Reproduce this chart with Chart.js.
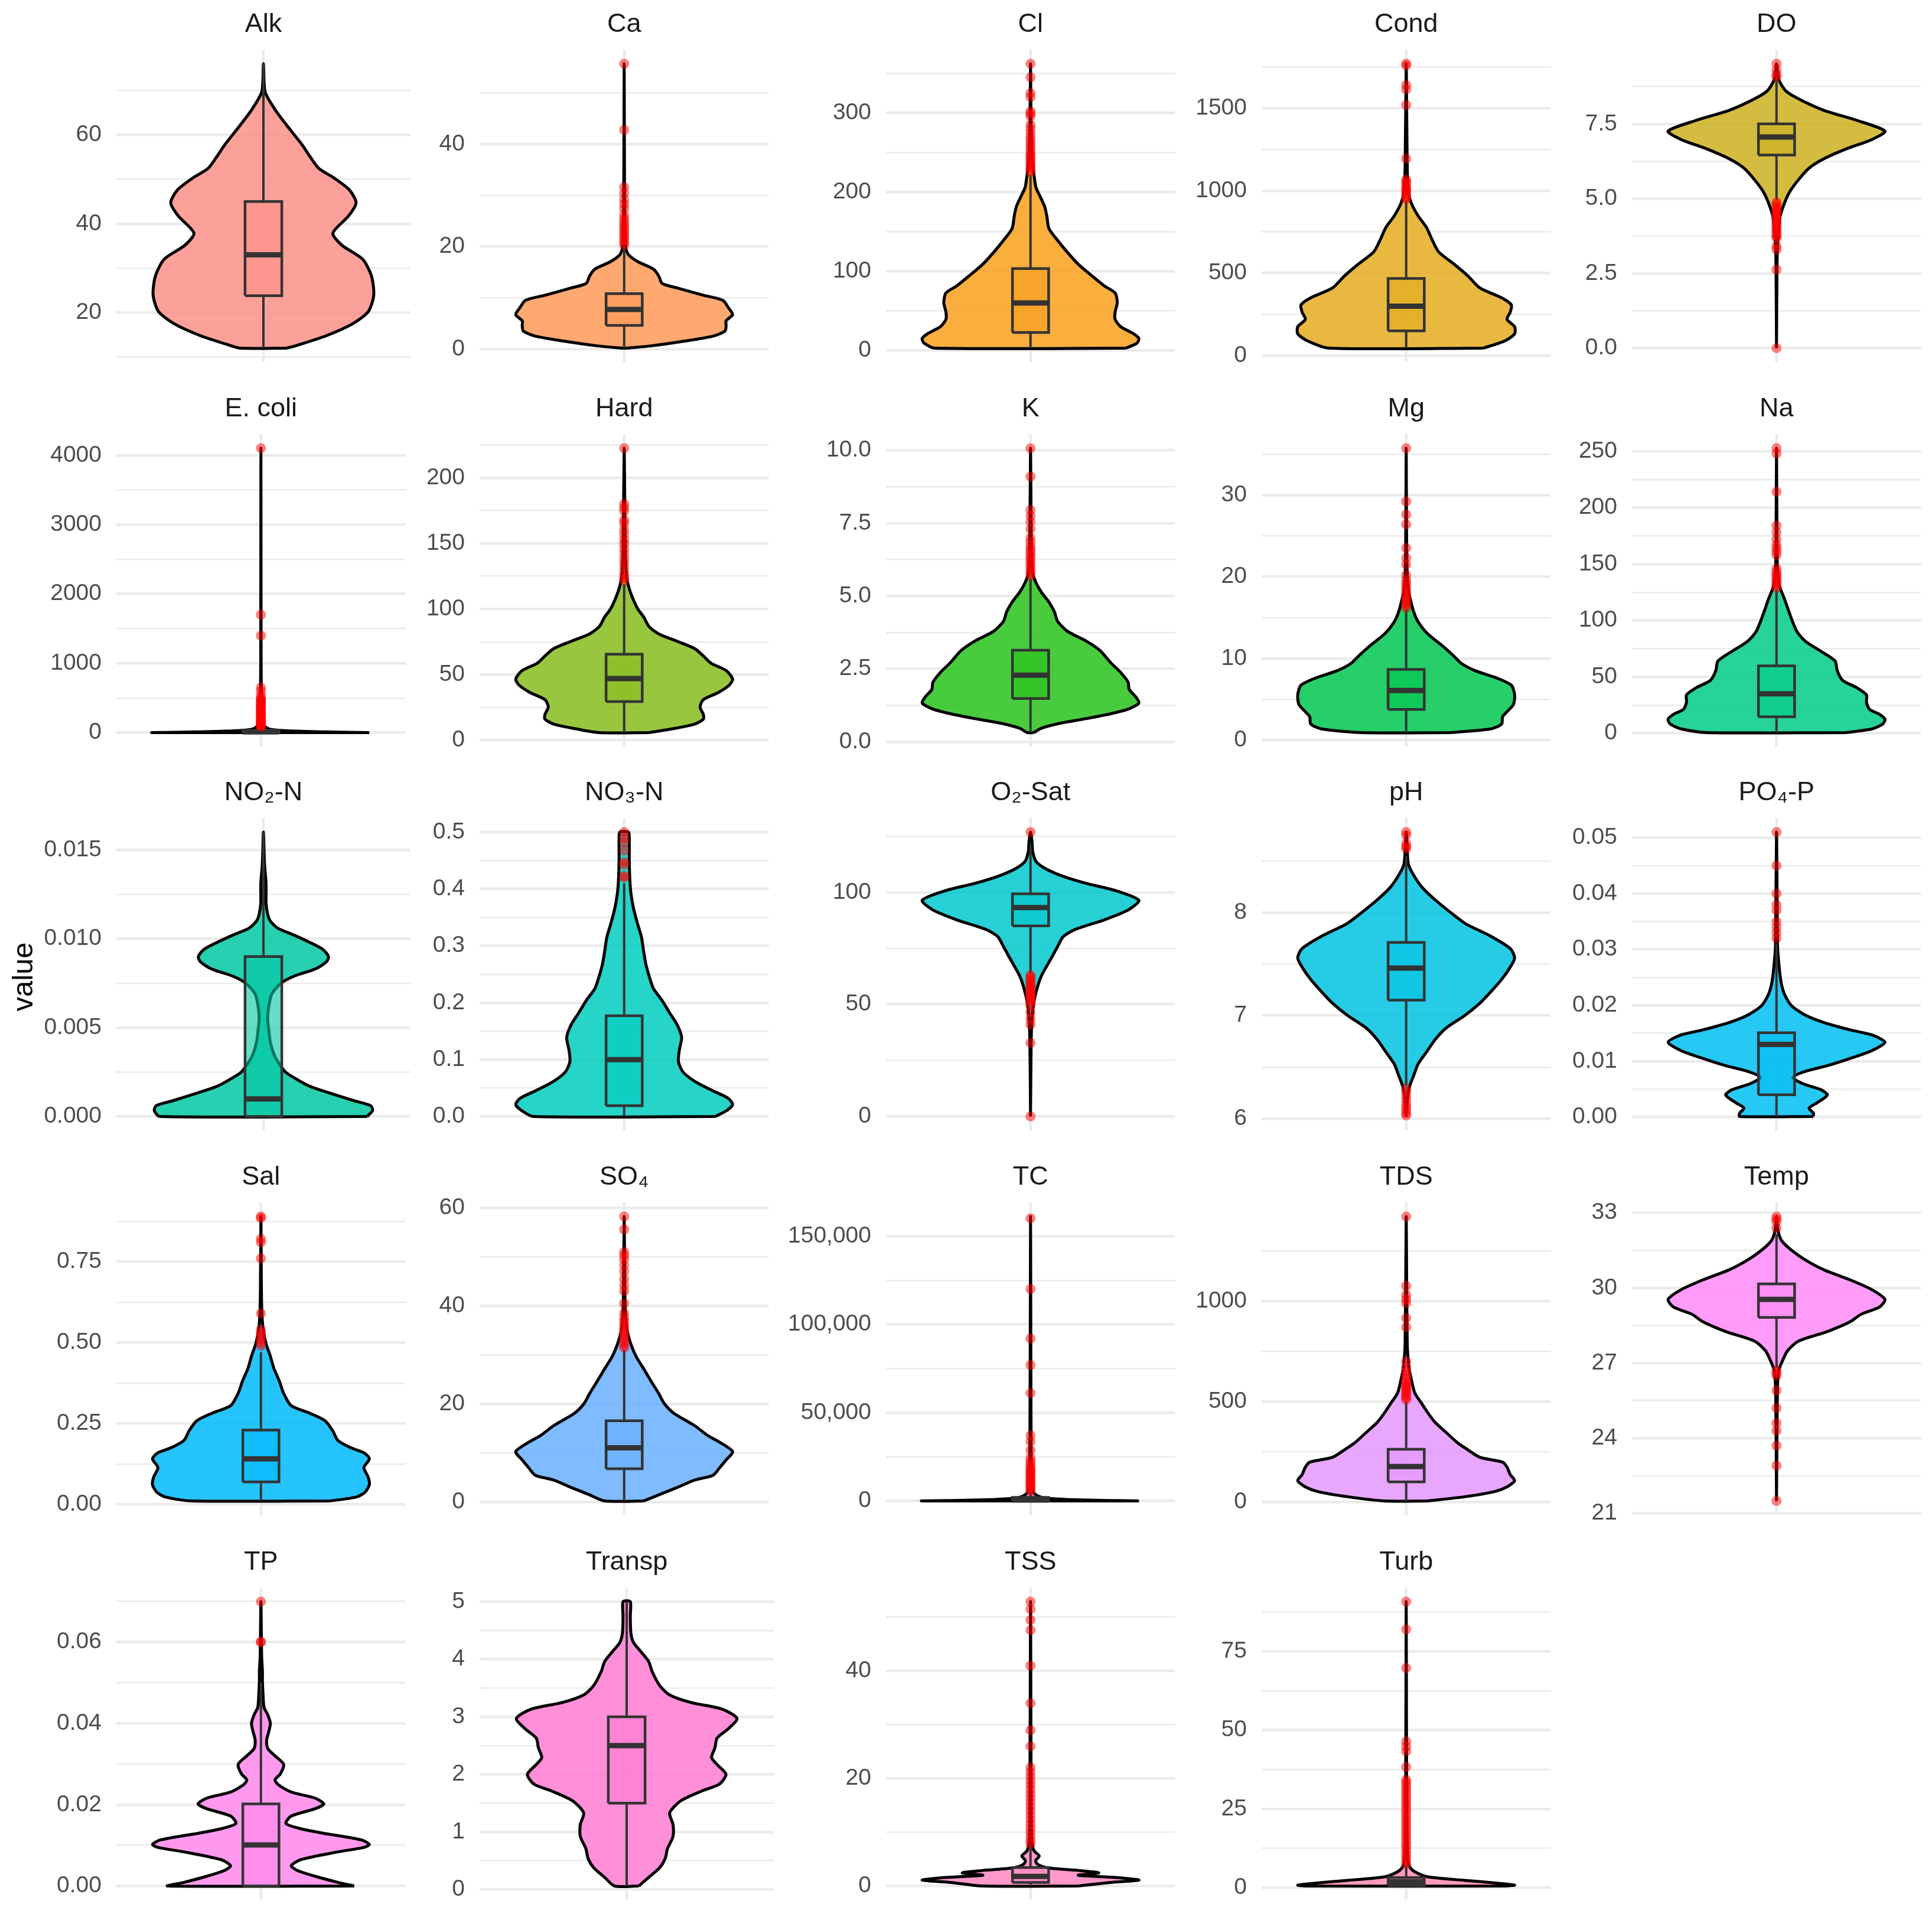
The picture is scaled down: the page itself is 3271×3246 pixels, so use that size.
<!DOCTYPE html>
<html>
<head>
<meta charset="utf-8">
<script src="https://cdn.jsdelivr.net/npm/chart.js@4.4.1/dist/chart.umd.min.js"></script>
<style>
  html, body { margin: 0; padding: 0; background: #ffffff; }
  body { width: 3271px; height: 3246px; position: relative; overflow: hidden; }
  canvas { position: absolute; }
  #ylab { position: absolute; left: 38px; top: 1654px; transform: translate(-50%, -50%) rotate(-90deg);
          font-family: 'Liberation Sans', Arial, Helvetica, sans-serif; font-size: 49px; color: #000; white-space: nowrap; }
</style>
</head>
<body>
<div id="ylab">value</div>
<script>
// ---------------- DATA ----------------
const panelTitles = ['Alk','Ca','Cl','Cond','DO','E. coli','Hard','K','Mg','Na',
  'NO₂-N','NO₃-N','O₂-Sat','pH','PO₄-P','Sal','SO₄','TC','TDS','Temp','TP','Transp','TSS','Turb'];

// violin profile: value positions and relative half-widths (1 = widest)
const alkY = [12.0, 12.6, 14.8, 17.5, 20.2, 23.9, 28.2, 32.0, 35.2, 37.9, 41.7, 44.7, 47.6, 50.3, 52.5, 55.2, 57.8, 62.2, 65.9, 69.7, 76.0];
const alkW = [0.21, 0.30, 0.57, 0.81, 0.95, 1.0, 0.98, 0.90, 0.71, 0.63, 0.77, 0.84, 0.78, 0.64, 0.50, 0.42, 0.35, 0.21, 0.10, 0.015, 0];
const alkBox = [12.0, 23.8, 33.0, 45.0, 76.0];
const alkOut = [];

const caY = [0.15, 0.6, 1.5, 2.5, 3.5, 4.5, 5.5, 6.7, 8.1, 9.5, 10.5, 11.9, 12.8, 14.2, 15.6, 17.0, 18.4, 19.8, 25.9, 55.7];
const caW = [0.02, 0.25, 0.55, 0.82, 0.93, 0.94, 0.94, 1.0, 0.96, 0.91, 0.73, 0.49, 0.35, 0.32, 0.27, 0.13, 0.04, 0.015, 0.005, 0];
const caBox = [0.15, 4.6, 7.7, 10.8, 20.0];
const caOut = [20.3, 20.8, 21.3, 21.8, 22.3, 22.8, 23.3, 23.8, 24.3, 24.9, 25.5, 26.2, 27.4, 28.3, 29.2, 30.4, 31.6, 42.8, 55.7];

const clY = [3, 9.1, 15.1, 21.2, 30.3, 39.4, 48.4, 60.6, 72.7, 81.7, 93.9, 109, 124, 139, 154, 170, 182, 194, 206, 224, 245, 290, 362];
const clW = [0.88, 0.98, 1.0, 0.95, 0.83, 0.78, 0.78, 0.80, 0.78, 0.68, 0.57, 0.44, 0.34, 0.25, 0.17, 0.15, 0.13, 0.09, 0.05, 0.03, 0.014, 0.005, 0];
const clBox = [3, 22.7, 60, 103.5, 222];
const clOut = [226, 229, 232, 235, 238, 241, 244, 247, 250, 254, 258, 262, 266, 270, 275, 280, 285, 296, 299, 302, 320, 325, 345, 362];

const condY = [44, 88, 131, 175, 219, 263, 307, 350, 409, 482, 555, 628, 701, 774, 847, 920, 993, 1139, 1770];
const condW = [0.71, 0.91, 1.0, 1.0, 0.93, 0.96, 0.97, 0.88, 0.68, 0.57, 0.44, 0.30, 0.24, 0.19, 0.11, 0.05, 0.02, 0.01, 0];
const condBox = [44, 149, 299, 467, 940];
const condOut = [948, 960, 975, 990, 1000, 1010, 1025, 1040, 1055, 1068, 1195, 1520, 1615, 1640, 1760, 1770];

const doY = [0.0, 2.8, 3.69, 4.41, 4.82, 5.22, 5.62, 6.02, 6.34, 6.66, 6.98, 7.26, 7.62, 7.95, 8.27, 8.59, 8.99, 9.51];
const doW = [0, 0.005, 0.013, 0.034, 0.07, 0.12, 0.20, 0.30, 0.44, 0.64, 0.88, 1.0, 0.74, 0.44, 0.24, 0.09, 0.02, 0];
const doBox = [4.95, 6.46, 7.06, 7.50, 9.0];
const doOut = [9.07, 9.15, 9.31, 9.51, 4.88, 4.8, 4.72, 4.65, 4.58, 4.5, 4.42, 4.35, 4.28, 4.2, 4.12, 4.05, 3.97, 3.9, 3.82, 3.75, 3.7, 3.42, 3.3, 2.63, 0.0];

const ecoliY = [0, 10, 25, 50, 100, 200, 500, 1000, 4100];
const ecoliW = [1.0, 0.6, 0.25, 0.08, 0.03, 0.012, 0.005, 0.002, 0];
const ecoliBox = [0, 2, 10, 35, 85];
const ecoliOut = [90, 100, 110, 120, 130, 140, 150, 160, 170, 180, 190, 200, 215, 230, 245, 260, 275, 290, 305, 320, 335, 350, 365, 380, 395, 410, 425, 440, 455, 470, 485, 500, 540, 600, 650, 1400, 1700, 4100];

const hardY = [5.9, 8.7, 12.4, 16.1, 19.8, 25.4, 31.0, 36.5, 42.1, 46.7, 53.2, 58.8, 64.3, 69.9, 75.4, 81.0, 86.6, 94.0, 99.5, 108.8, 118, 127, 146, 222.4];
const hardW = [0.23, 0.44, 0.65, 0.73, 0.73, 0.70, 0.73, 0.87, 0.97, 1.0, 0.94, 0.80, 0.73, 0.65, 0.49, 0.32, 0.23, 0.18, 0.13, 0.076, 0.038, 0.02, 0.01, 0];
const hardBox = [5.9, 29.5, 47.1, 65.6, 119];
const hardOut = [121.8, 124, 127, 131, 134.8, 138, 142, 145.9, 149.6, 153, 157, 160.7, 165.3, 168, 174.6, 177.4, 180, 222.4];

const kY = [0.31, 0.46, 0.63, 0.79, 0.96, 1.13, 1.33, 1.54, 1.79, 2.04, 2.38, 2.71, 3.13, 3.46, 3.79, 4.13, 4.46, 4.79, 5.13, 5.46, 5.79, 6.63, 10.07];
const kW = [0.03, 0.10, 0.27, 0.51, 0.74, 0.91, 1.0, 0.97, 0.91, 0.90, 0.83, 0.74, 0.64, 0.51, 0.34, 0.25, 0.22, 0.17, 0.10, 0.05, 0.02, 0.008, 0];
const kBox = [0.31, 1.48, 2.28, 3.14, 5.6];
const kOut = [5.7, 5.8, 5.9, 6.0, 6.1, 6.2, 6.3, 6.4, 6.5, 6.6, 6.7, 6.85, 7.0, 7.3, 7.55, 7.75, 7.95, 9.1, 10.07];

const mgY = [0.95, 1.4, 2.0, 2.9, 3.5, 4.4, 5.6, 6.75, 7.6, 8.5, 9.4, 10.3, 11.5, 13.0, 14.5, 15.7, 17.5, 18.9, 23.4, 35.7];
const mgW = [0.41, 0.78, 0.88, 0.89, 0.93, 0.99, 1.0, 0.97, 0.84, 0.64, 0.51, 0.44, 0.34, 0.20, 0.11, 0.07, 0.034, 0.015, 0.005, 0];
const mgBox = [0.95, 3.78, 6.1, 8.68, 16.0];
const mgOut = [16.2, 16.5, 16.8, 17.1, 17.4, 17.7, 18.0, 18.4, 18.8, 19.2, 19.6, 20.2, 21.5, 22.3, 23.5, 26.4, 27.6, 29.2, 35.7];

const naY = [0.6, 3.9, 8.2, 12.5, 16.8, 21.1, 27.5, 34.0, 40.4, 46.9, 55.5, 64.1, 72.7, 81.3, 89.9, 98.5, 109, 120, 128.5, 141, 163, 252.6];
const naW = [0.64, 0.88, 0.98, 1.0, 0.95, 0.86, 0.83, 0.83, 0.74, 0.61, 0.56, 0.54, 0.41, 0.27, 0.19, 0.15, 0.11, 0.07, 0.034, 0.012, 0.005, 0];
const naBox = [0.6, 14.6, 35.0, 59.8, 127];
const naOut = [129, 131, 133, 135, 137, 139, 141, 143, 146, 158, 161, 164, 167, 172, 178, 184, 214, 248, 252.6];

const no2Y = [0, 0.00034, 0.00062, 0.00089, 0.0013, 0.0017, 0.0021, 0.0025, 0.0031, 0.0035, 0.0042, 0.0049, 0.0055, 0.0062, 0.0069, 0.0075, 0.0079, 0.0083, 0.0087, 0.0090, 0.0094, 0.0098, 0.0102, 0.0106, 0.0110, 0.0114, 0.0120, 0.0131, 0.0142, 0.0160];
const no2W = [0.94, 0.99, 0.97, 0.82, 0.61, 0.42, 0.30, 0.20, 0.13, 0.095, 0.062, 0.048, 0.038, 0.048, 0.076, 0.16, 0.28, 0.47, 0.57, 0.59, 0.54, 0.42, 0.28, 0.13, 0.062, 0.038, 0.024, 0.024, 0.01, 0];
const no2Box = [0, 0, 0.00099, 0.0090, 0.0160];
const no2Out = [];

const no3Y = [0.0, 0.011, 0.021, 0.032, 0.045, 0.062, 0.079, 0.097, 0.118, 0.139, 0.161, 0.182, 0.204, 0.225, 0.247, 0.268, 0.290, 0.315, 0.341, 0.367, 0.393, 0.418, 0.453, 0.487, 0.500];
const no3W = [0.84, 0.95, 1.0, 0.96, 0.82, 0.65, 0.54, 0.50, 0.51, 0.53, 0.49, 0.42, 0.35, 0.27, 0.23, 0.20, 0.18, 0.16, 0.12, 0.085, 0.062, 0.052, 0.047, 0.047, 0.04];
const no3Box = [0.0, 0.019, 0.100, 0.177, 0.41];
const no3Out = [0.420, 0.423, 0.443, 0.447, 0.468, 0.482, 0.490, 0.500];

const o2Y = [0, 33.4, 44.2, 51.8, 58.4, 62.7, 67.1, 71.4, 75.8, 80.1, 83.4, 87.7, 92.1, 96.4, 100.8, 104.0, 107.3, 110.5, 113.8, 118.2, 122.5, 126.8];
const o2W = [0, 0.006, 0.015, 0.034, 0.068, 0.10, 0.15, 0.20, 0.25, 0.30, 0.41, 0.68, 0.90, 1.0, 0.78, 0.51, 0.29, 0.14, 0.05, 0.02, 0.014, 0];
const o2Box = [64, 85.0, 93.2, 99.3, 120];
const o2Out = [126.8, 63.0, 62.2, 61.4, 60.6, 59.8, 59.0, 58.2, 57.4, 56.6, 55.8, 55.0, 54.2, 53.4, 52.6, 51.8, 51.0, 49.5, 46.4, 43.5, 41.0, 32.8, 0];

const phY = [6.02, 6.18, 6.32, 6.42, 6.53, 6.65, 6.77, 6.88, 7.00, 7.12, 7.23, 7.35, 7.47, 7.56, 7.65, 7.77, 7.89, 8.00, 8.12, 8.24, 8.36, 8.47, 8.61, 8.78];
const phW = [0, 0.01, 0.034, 0.07, 0.11, 0.19, 0.27, 0.37, 0.54, 0.68, 0.78, 0.88, 0.96, 1.0, 0.96, 0.78, 0.55, 0.41, 0.27, 0.15, 0.07, 0.02, 0.01, 0];
const phBox = [6.32, 7.15, 7.46, 7.71, 8.55];
const phOut = [8.78, 8.75, 8.67, 8.64, 8.62, 6.29, 6.26, 6.22, 6.18, 6.14, 6.11, 6.08, 6.05, 6.03];

const po4Y = [0.0001, 0.0007, 0.0016, 0.0025, 0.0034, 0.0040, 0.0049, 0.0060, 0.0071, 0.0082, 0.0092, 0.0105, 0.0119, 0.0134, 0.0147, 0.0156, 0.0169, 0.0182, 0.0199, 0.0217, 0.0234, 0.0252, 0.0278, 0.0304, 0.0510];
const po4W = [0.34, 0.34, 0.30, 0.37, 0.44, 0.47, 0.41, 0.24, 0.15, 0.27, 0.47, 0.68, 0.88, 1.0, 0.88, 0.68, 0.44, 0.27, 0.14, 0.08, 0.05, 0.034, 0.02, 0.01, 0];
const po4Box = [0.0001, 0.0040, 0.0130, 0.0151, 0.031];
const po4Out = [0.032, 0.033, 0.034, 0.035, 0.037, 0.038, 0.040, 0.045, 0.051];

const salY = [0.011, 0.023, 0.038, 0.061, 0.084, 0.114, 0.141, 0.160, 0.175, 0.198, 0.229, 0.259, 0.282, 0.305, 0.343, 0.381, 0.420, 0.458, 0.496, 0.534, 0.572, 0.649, 0.889];
const salW = [0.64, 0.88, 0.96, 1.0, 0.99, 0.95, 1.0, 0.95, 0.83, 0.71, 0.66, 0.59, 0.45, 0.28, 0.21, 0.17, 0.12, 0.087, 0.048, 0.024, 0.012, 0.005, 0];
const salBox = [0.011, 0.070, 0.141, 0.230, 0.47];
const salOut = [0.49, 0.50, 0.51, 0.52, 0.53, 0.54, 0.59, 0.76, 0.81, 0.82, 0.885, 0.889];

const so4Y = [0.25, 1.5, 3.0, 4.5, 5.5, 7.0, 8.6, 10.3, 12.1, 13.6, 15.6, 18.1, 20.1, 22.1, 24.6, 27.2, 29.7, 32.2, 34.7, 37.2, 42.3, 58.2];
const so4W = [0.18, 0.32, 0.49, 0.65, 0.82, 0.88, 0.94, 1.0, 0.89, 0.77, 0.65, 0.46, 0.37, 0.32, 0.25, 0.18, 0.11, 0.062, 0.03, 0.015, 0.007, 0];
const so4Box = [0.25, 6.8, 11.1, 16.6, 31.0];
const so4Out = [31.5, 32, 32.6, 33.2, 33.8, 34.4, 35, 35.6, 36.2, 36.9, 37.6, 38.5, 40.5, 43, 44.2, 45.5, 47, 48.3, 49.5, 50.3, 51, 55.6, 58.2];

const tcY = [0, 300, 800, 1500, 2500, 4000, 6000, 15000, 161000];
const tcW = [1.0, 0.7, 0.35, 0.15, 0.08, 0.04, 0.02, 0.007, 0];
const tcBox = [0, 100, 500, 2000, 5000];
const tcOut = [5500, 6500, 7500, 8500, 9500, 10500, 11500, 12500, 13500, 14500, 15500, 16500, 17500, 18500, 19500, 21000, 22500, 24500, 28800, 33700, 37100, 61000, 77000, 92000, 120000, 160000];

const tdsY = [6, 27, 52, 76, 107, 137, 174, 199, 223, 260, 297, 346, 395, 444, 493, 542, 604, 665, 788, 1420];
const tdsW = [0.2, 0.54, 0.81, 0.93, 1.0, 0.96, 0.93, 0.89, 0.68, 0.57, 0.47, 0.37, 0.27, 0.20, 0.14, 0.08, 0.05, 0.027, 0.01, 0];
const tdsBox = [6, 101, 177, 263, 500];
const tdsOut = [510, 520, 530, 540, 550, 560, 570, 580, 590, 600, 615, 630, 650, 670, 700, 870, 915, 990, 1010, 1030, 1075, 1420];

const tempY = [21.49, 25.8, 26.69, 27.08, 27.48, 27.87, 28.26, 28.65, 28.95, 29.24, 29.54, 29.93, 30.32, 30.72, 31.11, 31.50, 31.89, 32.29, 32.85];
const tempW = [0, 0.008, 0.02, 0.054, 0.10, 0.20, 0.47, 0.68, 0.78, 0.95, 1.0, 0.88, 0.68, 0.44, 0.27, 0.14, 0.047, 0.014, 0];
const tempBox = [26.8, 28.82, 29.54, 30.16, 32.15];
const tempOut = [32.85, 32.75, 32.65, 32.4, 26.7, 26.6, 26.5, 25.9, 25.2, 24.6, 24.3, 23.7, 22.9, 21.49];

const tpY = [0.0000, 0.0009, 0.0024, 0.0039, 0.0050, 0.0065, 0.0083, 0.0095, 0.0102, 0.0113, 0.0130, 0.0142, 0.0154, 0.0172, 0.0190, 0.0202, 0.0216, 0.0231, 0.0249, 0.0261, 0.0276, 0.0299, 0.0320, 0.0338, 0.0359, 0.0379, 0.0400, 0.0421, 0.0439, 0.0474, 0.0504, 0.0528, 0.0563, 0.0699];
const tpW = [0.86, 0.71, 0.50, 0.33, 0.28, 0.37, 0.69, 0.95, 1.0, 0.93, 0.57, 0.35, 0.23, 0.28, 0.50, 0.58, 0.50, 0.28, 0.16, 0.13, 0.18, 0.21, 0.13, 0.063, 0.053, 0.072, 0.087, 0.063, 0.029, 0.019, 0.014, 0.014, 0.007, 0];
const tpBox = [0, 0, 0.0101, 0.0202, 0.050];
const tpOut = [0.06, 0.06, 0.0699];

const transpY = [0.06, 0.21, 0.38, 0.54, 0.71, 0.92, 1.13, 1.33, 1.54, 1.71, 1.83, 2.00, 2.17, 2.29, 2.46, 2.63, 2.79, 2.97, 3.13, 3.25, 3.38, 3.54, 3.79, 3.96, 4.13, 4.29, 4.46, 4.75, 5.00];
const transpW = [0.11, 0.20, 0.30, 0.35, 0.37, 0.42, 0.42, 0.39, 0.49, 0.68, 0.84, 0.90, 0.82, 0.77, 0.80, 0.82, 0.92, 1.0, 0.87, 0.58, 0.39, 0.30, 0.23, 0.20, 0.13, 0.062, 0.038, 0.033, 0.033];
const transpBox = [0.06, 1.5, 2.5, 3.0, 5.0];
const transpOut = [];

const tssY = [0.0, 0.67, 1.1, 1.6, 2.0, 2.45, 2.9, 3.35, 4.0, 4.7, 5.6, 6.5, 7.8, 11.4, 52.9];
const tssW = [0.44, 0.74, 1.0, 0.78, 0.44, 0.63, 0.44, 0.17, 0.068, 0.047, 0.08, 0.034, 0.015, 0.007, 0];
const tssBox = [0.0, 0.67, 1.8, 3.44, 7.5];
const tssOut = [7.8, 8.5, 9.2, 10, 10.8, 11.6, 12.4, 13.2, 14, 14.8, 15.6, 16.4, 17.2, 18, 18.8, 19.6, 20.4, 21.2, 22.1, 26, 29, 34, 41, 47.6, 49.5, 51.5, 52.9];

const turbY = [0.5, 0.77, 1.5, 2.3, 3.4, 5.0, 6.5, 8.8, 19.5, 90.8];
const turbW = [0.9, 1.0, 0.81, 0.54, 0.2, 0.08, 0.034, 0.015, 0.006, 0];
const turbBox = [0.5, 0.6, 1.8, 3.2, 7.0];
const turbOut = [7.5, 8.5, 9.5, 10.5, 11.5, 12.5, 13.5, 14.5, 15.5, 16.5, 17.5, 18.5, 19.5, 20.5, 21.5, 22.5, 23.5, 24.5, 25.5, 26.5, 27.5, 28.5, 29.5, 30.5, 31.5, 32.5, 33.5, 34.2, 38.3, 43.3, 44.8, 46.4, 69.7, 82.0, 90.8];

// y tick values and labels
const alkTicks = [20, 40, 60];                 const alkLabels = ['20', '40', '60'];
const caTicks = [0, 20, 40];                   const caLabels = ['0', '20', '40'];
const clTicks = [0, 100, 200, 300];            const clLabels = ['0', '100', '200', '300'];
const condTicks = [0, 500, 1000, 1500];        const condLabels = ['0', '500', '1000', '1500'];
const doTicks = [0, 2.5, 5, 7.5];              const doLabels = ['0.0', '2.5', '5.0', '7.5'];
const ecoliTicks = [0, 1000, 2000, 3000, 4000];const ecoliLabels = ['0', '1000', '2000', '3000', '4000'];
const hardTicks = [0, 50, 100, 150, 200];      const hardLabels = ['0', '50', '100', '150', '200'];
const kTicks = [0, 2.5, 5, 7.5, 10];           const kLabels = ['0.0', '2.5', '5.0', '7.5', '10.0'];
const mgTicks = [0, 10, 20, 30];               const mgLabels = ['0', '10', '20', '30'];
const naTicks = [0, 50, 100, 150, 200, 250];   const naLabels = ['0', '50', '100', '150', '200', '250'];
const no2Ticks = [0, 0.005, 0.010, 0.015];     const no2Labels = ['0.000', '0.005', '0.010', '0.015'];
const no3Ticks = [0, 0.1, 0.2, 0.3, 0.4, 0.5]; const no3Labels = ['0.0', '0.1', '0.2', '0.3', '0.4', '0.5'];
const o2Ticks = [0, 50, 100];                  const o2Labels = ['0', '50', '100'];
const phTicks = [6, 7, 8];                     const phLabels = ['6', '7', '8'];
const po4Ticks = [0, 0.01, 0.02, 0.03, 0.04, 0.05]; const po4Labels = ['0.00', '0.01', '0.02', '0.03', '0.04', '0.05'];
const salTicks = [0, 0.25, 0.5, 0.75];         const salLabels = ['0.00', '0.25', '0.50', '0.75'];
const so4Ticks = [0, 20, 40, 60];              const so4Labels = ['0', '20', '40', '60'];
const tcTicks = [0, 50000, 100000, 150000];    const tcLabels = ['0', '50,000', '100,000', '150,000'];
const tdsTicks = [0, 500, 1000];               const tdsLabels = ['0', '500', '1000'];
const tempTicks = [21, 24, 27, 30, 33];        const tempLabels = ['21', '24', '27', '30', '33'];
const tpTicks = [0, 0.02, 0.04, 0.06];         const tpLabels = ['0.00', '0.02', '0.04', '0.06'];
const transpTicks = [0, 1, 2, 3, 4, 5];        const transpLabels = ['0', '1', '2', '3', '4', '5'];
const tssTicks = [0, 20, 40];                  const tssLabels = ['0', '20', '40'];
const turbTicks = [0, 25, 50, 75];             const turbLabels = ['0', '25', '50', '75'];

// ---------------- styles ----------------
// fill colour for each panel (violin drawn with alpha, box on top with alpha)
const panelColors = ['#FC9088', '#FF9A57', '#F8A01C', '#E4AB1E', '#CCB01E', '#B0B81E', '#87BC1D', '#28C31C',
  '#00C74F', '#00CB88', '#00C8A2', '#00CCBE', '#00C8CD', '#00C3E2', '#00BEF2', '#00BAFF',
  '#68AFFF', '#B898FF', '#E496FD', '#FF8AF7', '#FF87EB', '#FF7BD1', '#FF87C3', '#FF8AB0'];
const VIOLIN_ALPHA = 0.85, BOX_ALPHA = 0.6;

const FONT = "'Liberation Sans', Arial, Helvetica, sans-serif";
const colLefts = [197, 812, 1500, 2136, 2763];
const rowTops = [84, 735, 1385, 2036, 2688];
const axisWidths = [185, 110, 180, 130, 120];
const PANEL_W = 498, PANEL_H = 538, TITLE_H = 84, BOTTOM_PAD = 40;
const HALF = 0.45, BOX_HALF = 0.075;

// ---------------- assembly ----------------
const panels = [
  [alkY, alkW, alkBox, alkOut, alkTicks, alkLabels],
  [caY, caW, caBox, caOut, caTicks, caLabels],
  [clY, clW, clBox, clOut, clTicks, clLabels],
  [condY, condW, condBox, condOut, condTicks, condLabels],
  [doY, doW, doBox, doOut, doTicks, doLabels],
  [ecoliY, ecoliW, ecoliBox, ecoliOut, ecoliTicks, ecoliLabels],
  [hardY, hardW, hardBox, hardOut, hardTicks, hardLabels],
  [kY, kW, kBox, kOut, kTicks, kLabels],
  [mgY, mgW, mgBox, mgOut, mgTicks, mgLabels],
  [naY, naW, naBox, naOut, naTicks, naLabels],
  [no2Y, no2W, no2Box, no2Out, no2Ticks, no2Labels],
  [no3Y, no3W, no3Box, no3Out, no3Ticks, no3Labels],
  [o2Y, o2W, o2Box, o2Out, o2Ticks, o2Labels],
  [phY, phW, phBox, phOut, phTicks, phLabels],
  [po4Y, po4W, po4Box, po4Out, po4Ticks, po4Labels],
  [salY, salW, salBox, salOut, salTicks, salLabels],
  [so4Y, so4W, so4Box, so4Out, so4Ticks, so4Labels],
  [tcY, tcW, tcBox, tcOut, tcTicks, tcLabels],
  [tdsY, tdsW, tdsBox, tdsOut, tdsTicks, tdsLabels],
  [tempY, tempW, tempBox, tempOut, tempTicks, tempLabels],
  [tpY, tpW, tpBox, tpOut, tpTicks, tpLabels],
  [transpY, transpW, transpBox, transpOut, transpTicks, transpLabels],
  [tssY, tssW, tssBox, tssOut, tssTicks, tssLabels],
  [turbY, turbW, turbBox, turbOut, turbTicks, turbLabels]
].map((a, i) => ({ title: panelTitles[i], y: a[0], w: a[1], box: a[2], out: a[3], ticks: a[4], labels: a[5], color: panelColors[i] }));

function rgba(hex, a) {
  const n = parseInt(hex.slice(1), 16);
  return `rgba(${(n >> 16) & 255},${(n >> 8) & 255},${n & 255},${a})`;
}

const vgrid = {
  id: 'vgrid',
  beforeDatasetsDraw(chart) {
    const { ctx, chartArea } = chart;
    const x = chart.scales.x.getPixelForValue(1);
    ctx.save();
    ctx.strokeStyle = '#EBEBEB';
    ctx.lineWidth = 4.5;
    ctx.beginPath();
    ctx.moveTo(x, chartArea.top);
    ctx.lineTo(x, chartArea.bottom);
    ctx.stroke();
    ctx.restore();
  }
};

panels.forEach((p, i) => {
  const col = i % 5, row = Math.floor(i / 5);
  const aw = axisWidths[col];
  const W = aw + PANEL_W, H = TITLE_H + PANEL_H + BOTTOM_PAD;
  const canvas = document.createElement('canvas');
  canvas.width = W; canvas.height = H;
  canvas.style.left = (colLefts[col] - aw) + 'px';
  canvas.style.top = (rowTops[row] - TITLE_H) + 'px';
  canvas.style.width = W + 'px'; canvas.style.height = H + 'px';
  document.body.appendChild(canvas);

  const all = p.y.concat(p.out, p.box);
  const lo = Math.min(...all), hi = Math.max(...all);
  const pad = (hi - lo) * 0.05;
  const ymin = lo - pad, ymax = hi + pad;

  const step = p.ticks[1] - p.ticks[0];
  const minors = [];
  for (let k = -1; k < p.ticks.length; k++) {
    const v = p.ticks[0] + (k + 0.5) * step;
    if (v >= ymin && v <= ymax) minors.push(v);
  }
  const majors = p.ticks.filter(v => v >= ymin - 1e-12 && v <= ymax + 1e-12);
  const tickVals = majors.concat(minors).sort((a, b) => a - b);
  const isMajor = v => majors.some(m => Math.abs(m - v) < step * 1e-6);
  const labelOf = v => {
    const k = p.ticks.findIndex(m => Math.abs(m - v) < step * 1e-6);
    return k >= 0 ? p.labels[k] : '';
  };

  // violin outline: right side upward, left side downward; zero-width tips kept single
  const n = p.y.length;
  const right = p.y.map((y, k) => ({ x: 1 + HALF * p.w[k], y }));
  let left = p.y.map((y, k) => ({ x: 1 - HALF * p.w[k], y })).reverse();
  if (p.w[n - 1] === 0) left = left.slice(1);
  if (p.w[0] === 0) left = left.slice(0, -1);
  const violin = right.concat(left, [right[0]]);
  const [wlo, q1, med, q3, whi] = p.box;

  const datasets = [
    { data: violin, showLine: true, fill: 'shape', tension: 0.25, pointRadius: 0,
      borderColor: '#000000', borderWidth: 5, borderJoinStyle: 'round',
      backgroundColor: rgba(p.color, VIOLIN_ALPHA), order: 6 },
    { data: [{ x: 1 - BOX_HALF, y: q1 }, { x: 1 + BOX_HALF, y: q1 }, { x: 1 + BOX_HALF, y: q3 }, { x: 1 - BOX_HALF, y: q3 }, { x: 1 - BOX_HALF, y: q1 }],
      showLine: true, fill: 'shape', tension: 0, pointRadius: 0,
      borderColor: '#333333', borderWidth: 4.5, backgroundColor: rgba(p.color, BOX_ALPHA), order: 5 },
    { data: [{ x: 1, y: wlo }, { x: 1, y: q1 }], showLine: true, pointRadius: 0, borderColor: '#333333', borderWidth: 4, fill: false, order: 4 },
    { data: [{ x: 1, y: q3 }, { x: 1, y: whi }], showLine: true, pointRadius: 0, borderColor: '#333333', borderWidth: 4, fill: false, order: 4 },
    { data: [{ x: 1 - BOX_HALF, y: med }, { x: 1 + BOX_HALF, y: med }], showLine: true, pointRadius: 0, borderColor: '#333333', borderWidth: 9, borderCapStyle: 'butt', fill: false, order: 3 },
    { data: p.out.map(v => ({ x: 1, y: v })), showLine: false, pointRadius: 8.5, pointBorderWidth: 0,
      pointBackgroundColor: 'rgba(255,0,0,0.5)', pointBorderColor: 'rgba(0,0,0,0)', order: 1 }
  ];

  new Chart(canvas, {
    type: 'scatter',
    data: { datasets },
    options: {
      responsive: false, animation: false, devicePixelRatio: 1,
      layout: { padding: { left: 0, right: 0, top: 0, bottom: BOTTOM_PAD } },
      plugins: {
        legend: { display: false }, tooltip: { enabled: false },
        title: { display: true, text: p.title, fullSize: false, color: '#1A1A1A',
                 font: { family: FONT, size: 45, weight: 'normal', lineHeight: 1.2 },
                 padding: { top: 15, bottom: 15 } }
      },
      scales: {
        x: { type: 'linear', min: 0.4, max: 1.6, display: false },
        y: {
          type: 'linear', min: ymin, max: ymax, bounds: 'data',
          afterFit: s => { s.width = aw; },
          afterBuildTicks: s => { s.ticks = tickVals.map(v => ({ value: v })); },
          ticks: { autoSkip: false, padding: 25, color: '#4D4D4D', font: { family: FONT, size: 39 },
                   callback: v => labelOf(v) },
          grid: { drawTicks: false, color: '#EBEBEB', lineWidth: ctx => (ctx.tick && isMajor(ctx.tick.value)) ? 4.5 : 2.4 },
          border: { display: false }
        }
      }
    },
    plugins: [vgrid]
  });
});
</script>
</body>
</html>
